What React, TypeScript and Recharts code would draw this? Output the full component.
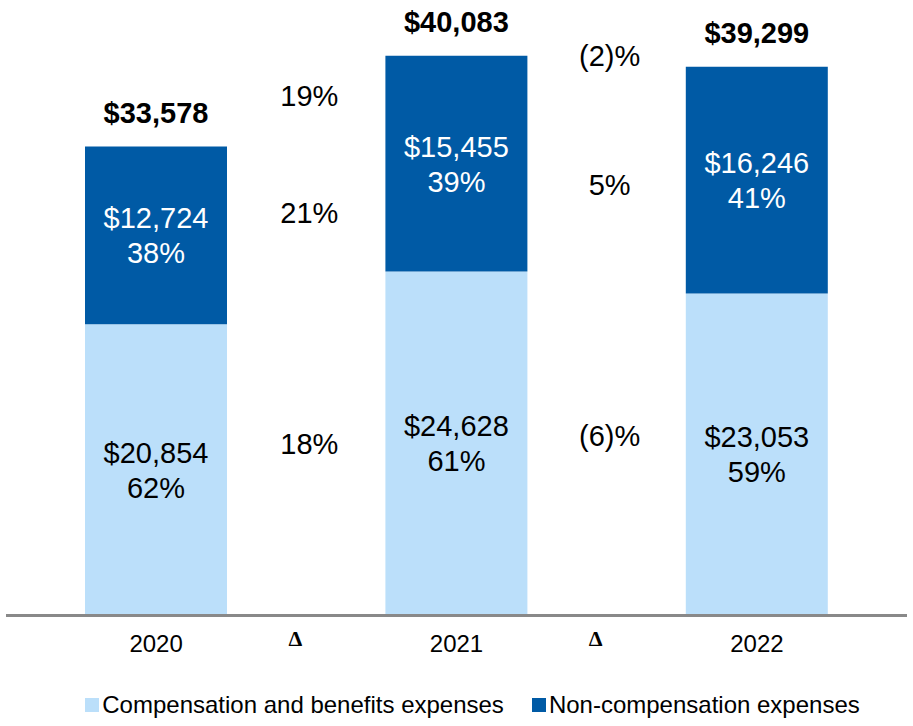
import React from 'react';
import { ComposedChart, Bar, Line, XAxis, YAxis, Legend, LabelList } from 'recharts';

const years = ['2020', '2021', '2022'];
const compensation = [20854, 24628, 23053];
const nonCompensation = [12724, 15455, 16246];
const totals = [33578, 40083, 39299];
const compShare = ['62%', '61%', '59%'];
const nonCompShare = ['38%', '39%', '41%'];
const totalChange = ['19%', '(2)%'];
const compChange = ['18%', '(6)%'];
const nonCompChange = ['21%', '5%'];
const seriesNames = ['Compensation and benefits expenses', 'Non-compensation expenses'];
const deltaSymbol = '\u0394';

const COMP_COLOR = '#BBDFFA';
const NONCOMP_COLOR = '#005AA5';
const FONT = '"Liberation Sans", Arial, Helvetica, sans-serif';

const money = (v: number) => '$' + v.toLocaleString('en-US');

type Row = Record<string, any>;
const rows: Row[] = [];
years.forEach((y, i) => {
  if (i > 0) {
    rows.push({
      key: 'delta' + i,
      totalMid: (totals[i - 1] + totals[i]) / 2,
      compMid: (compensation[i - 1] / 2 + compensation[i] / 2) / 2,
      nonCompMid:
        (compensation[i - 1] + nonCompensation[i - 1] / 2 + compensation[i] + nonCompensation[i] / 2) / 2,
      totalChange: totalChange[i - 1],
      compChange: compChange[i - 1],
      nonCompChange: nonCompChange[i - 1],
    });
  }
  rows.push({
    key: y,
    comp: compensation[i],
    nonComp: nonCompensation[i],
    compLabel: money(compensation[i]) + '\n' + compShare[i],
    nonCompLabel: money(nonCompensation[i]) + '\n' + nonCompShare[i],
    totalLabel: money(totals[i]),
  });
});

const geom = (p: any) => {
  const vb = p.viewBox || {};
  const x = typeof p.x === 'number' ? p.x : vb.x;
  const y = typeof p.y === 'number' ? p.y : vb.y;
  const width = typeof p.width === 'number' ? p.width : vb.width || 0;
  const height = typeof p.height === 'number' ? p.height : vb.height || 0;
  return { x, y, width, height };
};

const insideLabel = (color: string) => (p: any) => {
  if (p.value == null) return null;
  const { x, y, width, height } = geom(p);
  if (x == null || y == null) return null;
  const cx = x + width / 2;
  const cy = y + height / 2;
  const lines = String(p.value).split('\n');
  return (
    <g>
      {lines.map((t, i) => (
        <text
          key={i}
          x={cx}
          y={cy + (i - (lines.length - 1) / 2) * 35}
          dy="0.36em"
          textAnchor="middle"
          fill={color}
          fontSize={29}
          fontFamily={FONT}
        >
          {t}
        </text>
      ))}
    </g>
  );
};

const totalLabel = (p: any) => {
  if (p.value == null) return null;
  const { x, y, width } = geom(p);
  if (x == null || y == null) return null;
  return (
    <text x={x + width / 2} y={y - 34} dy="0.36em" textAnchor="middle" fill="#000" fontSize={29} fontWeight="bold" fontFamily={FONT}>
      {p.value}
    </text>
  );
};

const deltaLabel = (shift: number) => (p: any) => {
  if (p.value == null) return null;
  const { x, y } = geom(p);
  if (x == null || y == null || isNaN(y)) return null;
  return (
    <text x={x + 3} y={y + shift} dy="0.36em" textAnchor="middle" fill="#000" fontSize={29} fontFamily={FONT}>
      {p.value}
    </text>
  );
};

const AxisTick = (p: any) => {
  const { x, y, payload } = p;
  const v = String(payload.value);
  if (v.startsWith('delta')) {
    return (
      <text x={x - 11} y={y + 30} textAnchor="middle" fill="#000" fontSize={22} fontWeight="bold" fontFamily='"Liberation Serif", "Times New Roman", serif'>
        {deltaSymbol}
      </text>
    );
  }
  return (
    <text x={x} y={y + 36} textAnchor="middle" fill="#000" fontSize={24} fontFamily={FONT}>
      {v}
    </text>
  );
};

const legendColors = [COMP_COLOR, NONCOMP_COLOR];
const LegendContent = () => (
  <div
    style={{
      display: 'flex',
      justifyContent: 'center',
      alignItems: 'center',
      height: 30,
      paddingLeft: 32,
      fontFamily: FONT,
      fontSize: 24,
      color: '#000',
      whiteSpace: 'nowrap',
    }}
  >
    {seriesNames.map((n, i) => (
      <div key={n} style={{ display: 'flex', alignItems: 'center', marginLeft: i ? 28 : 0 }}>
        <span style={{ display: 'inline-block', width: 14, height: 14, background: legendColors[i], marginRight: 3 }} />
        <span>{n}</span>
      </div>
    ))}
  </div>
);

export default function App() {
  return (
    <div style={{ position: 'absolute', left: 0, top: 0, width: 913, height: 726 }}>
      <ComposedChart width={913} height={726} data={rows} margin={{ top: 29, right: 6, bottom: 6, left: 6 }}>
        <XAxis
          dataKey="key"
          axisLine={{ stroke: '#898989', strokeWidth: 3 }}
          tickLine={false}
          tickSize={0}
          tickMargin={0}
          height={74.5}
          interval={0}
          padding={{ left: 75, right: 75 }}
          tick={<AxisTick />}
        />
        <YAxis hide domain={[0, 42000]} />
        <Bar dataKey="comp" name={seriesNames[0]} stackId="s" fill={COMP_COLOR} barSize={142} isAnimationActive={false}>
          <LabelList dataKey="compLabel" content={insideLabel('#000')} />
        </Bar>
        <Bar dataKey="nonComp" name={seriesNames[1]} stackId="s" fill={NONCOMP_COLOR} barSize={142} isAnimationActive={false}>
          <LabelList dataKey="nonCompLabel" content={insideLabel('#fff')} />
          <LabelList dataKey="totalLabel" content={totalLabel} />
        </Bar>
        <Line dataKey="totalMid" stroke="none" dot={false} activeDot={false} legendType="none" isAnimationActive={false}>
          <LabelList dataKey="totalChange" content={deltaLabel(-6)} />
        </Line>
        <Line dataKey="nonCompMid" stroke="none" dot={false} activeDot={false} legendType="none" isAnimationActive={false}>
          <LabelList dataKey="nonCompChange" content={deltaLabel(12.5)} />
        </Line>
        <Line dataKey="compMid" stroke="none" dot={false} activeDot={false} legendType="none" isAnimationActive={false}>
          <LabelList dataKey="compChange" content={deltaLabel(-13)} />
        </Line>
        <Legend verticalAlign="bottom" content={<LegendContent />} />
      </ComposedChart>
    </div>
  );
}
